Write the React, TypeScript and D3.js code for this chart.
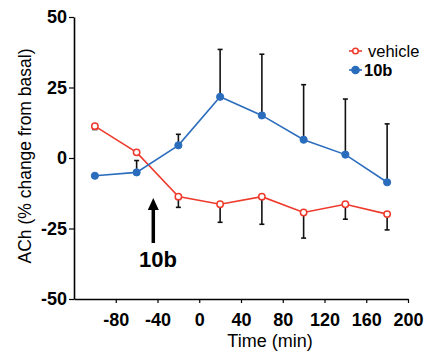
import React, { useRef, useEffect } from 'react';
import * as d3 from 'd3';

const times = [-100, -60, -20, 20, 60, 100, 140, 180];
const vehicle = [11.3, 2.0, -13.7, -16.4, -13.7, -19.3, -16.4, -19.9];
const vehicleErr = [1.2, 0, 3.8, 6.4, 9.8, 9.1, 5.3, 5.6];
const drug = [-6.3, -5.1, 4.5, 21.7, 15.1, 6.5, 1.2, -8.6];
const drugErr = [0, 4.2, 3.9, 16.8, 21.7, 19.5, 19.7, 20.7];
const xTicks = [-80, -40, 0, 40, 80, 120, 160, 200];
const yTicks = [-50, -25, 0, 25, 50];

const RED = '#ee3a2c';
const BLUE = '#2b6dbd';
const FONT = 'Liberation Sans, Arial, sans-serif';

const App = () => {
  const svgRef = useRef<SVGSVGElement>(null);

  useEffect(() => {
    const svg = d3.select(svgRef.current);
    svg.selectAll('*').remove();

    const x = d3.scaleLinear().domain([-120, 200]).range([74, 408]);
    const y = d3.scaleLinear().domain([-50, 50]).range([299, 17]);

    // axes (plain hyphen minus like the original)
    const xAxis = svg.append('g').attr('transform', 'translate(0,299)')
      .call(d3.axisBottom(x).tickValues(xTicks).tickFormat(d => String(d)).tickSize(4).tickSizeOuter(0));
    const yAxis = svg.append('g').attr('transform', 'translate(74,0)')
      .call(d3.axisLeft(y).tickValues(yTicks).tickFormat(d => String(d)).tickSize(5).tickSizeOuter(0));
    [xAxis, yAxis].forEach(g => {
      g.select('.domain').attr('stroke', '#000').attr('stroke-width', 1.6);
      g.selectAll('.tick line').attr('stroke', '#000').attr('stroke-width', 1.2);
      g.selectAll('.tick text').attr('fill', '#000')
        .style('font-family', FONT).style('font-size', '18px').style('font-weight', 'bold');
    });
    xAxis.selectAll('.tick text').attr('dy', null).attr('y', 27);
    yAxis.selectAll('.tick text').attr('x', -7);

    const series = [
      { vals: vehicle, err: vehicleErr, color: RED, dir: -1, open: true },
      { vals: drug, err: drugErr, color: BLUE, dir: 1, open: false },
    ];

    // error bars
    series.forEach(s => {
      s.vals.forEach((v, i) => {
        if (!s.err[i]) return;
        const end = y(v + s.dir * s.err[i]);
        const g = svg.append('g').attr('stroke', '#111').attr('stroke-width', 1.6);
        g.append('line').attr('x1', x(times[i])).attr('x2', x(times[i]))
          .attr('y1', y(v)).attr('y2', end);
        g.append('line').attr('x1', x(times[i]) - 2.5).attr('x2', x(times[i]) + 2.5)
          .attr('y1', end).attr('y2', end);
      });
    });

    // lines + markers
    const line = d3.line<number>().x((d, i) => x(times[i])).y(d => y(d));
    series.forEach(s => {
      svg.append('path').datum(s.vals).attr('d', line)
        .attr('fill', 'none').attr('stroke', s.color).attr('stroke-width', 1.6);
      svg.selectAll(null).data(s.vals).enter().append('circle')
        .attr('cx', (d, i) => x(times[i])).attr('cy', d => y(d))
        .attr('r', s.open ? 3.2 : 3.6)
        .attr('fill', s.open ? '#fff' : s.color)
        .attr('stroke', s.color).attr('stroke-width', s.open ? 1.5 : 1);
    });

    // legend
    const legend = [
      { label: 'vehicle', color: RED, open: true, bold: false, yy: 51, tx: 368 },
      { label: '10b', color: BLUE, open: false, bold: true, yy: 70, tx: 364 },
    ];
    legend.forEach(l => {
      svg.append('line').attr('x1', 349).attr('x2', 362).attr('y1', l.yy).attr('y2', l.yy)
        .attr('stroke', l.color).attr('stroke-width', 1.6);
      svg.append('circle').attr('cx', 355.5).attr('cy', l.yy).attr('r', l.open ? 2.8 : 3.6)
        .attr('fill', l.open ? '#fff' : l.color).attr('stroke', l.color).attr('stroke-width', 1.5);
      svg.append('text').attr('x', l.tx).attr('y', l.yy + 5.5).text(l.label)
        .style('font-family', FONT).style('font-size', '16.5px')
        .style('font-weight', l.bold ? 'bold' : 'normal').attr('fill', '#000');
    });

    // arrow annotation
    const ax = 153.3;
    svg.append('line').attr('x1', ax).attr('x2', ax).attr('y1', 208).attr('y2', 243)
      .attr('stroke', '#000').attr('stroke-width', 3.5);
    svg.append('path')
      .attr('d', `M${ax - 5.5},${210} L${ax},${198} L${ax + 5.5},${210} Z`)
      .attr('fill', '#000');
    svg.append('text').attr('x', 158).attr('y', 267).attr('text-anchor', 'middle')
      .text('10b').style('font-family', FONT).style('font-size', '22px')
      .style('font-weight', 'bold').attr('fill', '#000');

    // axis titles
    svg.append('text').attr('x', 270).attr('y', 347).attr('text-anchor', 'middle')
      .text('Time (min)').style('font-family', FONT).style('font-size', '18px').attr('fill', '#000');
    svg.append('text').attr('transform', 'translate(31,156) rotate(-90)').attr('text-anchor', 'middle')
      .text('ACh (% change from basal)').style('font-family', FONT).style('font-size', '17.5px')
      .attr('fill', '#000');
  }, []);

  return <svg ref={svgRef} width={425} height={353}
    style={{ position: 'absolute', left: 0, top: 0, background: '#fff' }} />;
};

export default App;
